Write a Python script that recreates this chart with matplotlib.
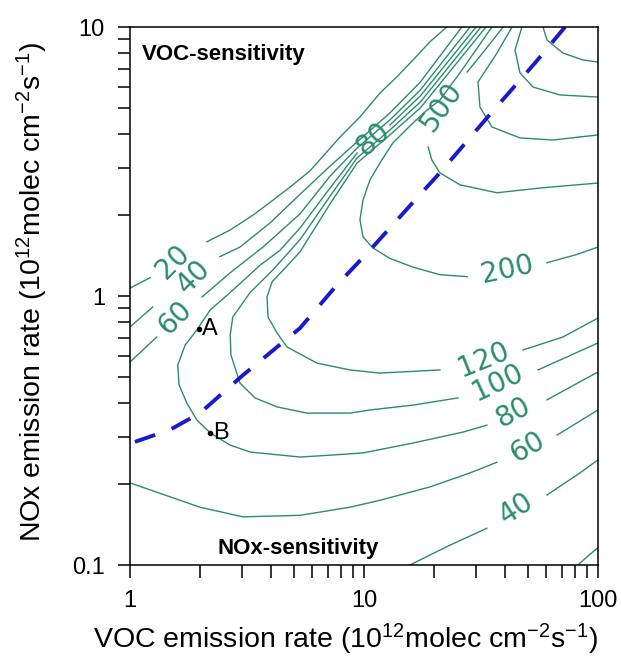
import numpy as np
import matplotlib
matplotlib.use("Agg")
import matplotlib.pyplot as plt

plt.rcParams["font.family"] = ["Liberation Sans", "DejaVu Sans"]
plt.rcParams["mathtext.fontset"] = "custom"
plt.rcParams["mathtext.rm"] = "Liberation Sans"
plt.rcParams["mathtext.default"] = "regular"

nan = np.nan
GREEN = "#2b8c6e"
BLUE = "#1a1acd"

# ozone isopleths (ppb); nan = gap where a label sits
c20_x = [1.00, 1.22, nan, 2.13, 2.68, 3.36, 4.08, 4.83, 5.88, 7.90, 9.61, 11.7, 13.8, 16.2, 19.1, 22.6]
c20_y = [1.07, 1.17, nan, 1.59, 1.76, 2.00, 2.27, 2.54, 2.92, 3.90, 4.63, 5.68, 6.52, 7.54, 8.80, 10.0]
c20b_x = [82.1, 90.6, 100]
c20b_y = [0.100, 0.108, 0.116]

c40_x = [1.00, 1.25, nan, 2.42, 2.95, 3.97, 5.17, 7.16, 9.34, 12.9, 17.4, 26.2]
c40_y = [0.767, 0.910, nan, 1.40, 1.52, 1.87, 2.33, 3.04, 3.74, 4.79, 6.24, 10.0]
c40b_x = [15.7, 22.6, 33.5, nan, 60.5, 83.8, 100]
c40b_y = [0.100, 0.117, 0.137, nan, 0.182, 0.220, 0.246]

c60_x = [1.00, 1.30, nan, 2.03, 2.68, 3.70, 5.33, 7.16, 9.34, 12.9, 17.4, 28.4]
c60_y = [0.568, 0.704, nan, 0.991, 1.22, 1.52, 2.02, 2.79, 3.55, 4.51, 5.83, 10.0]
c60b_x = [1.00, 1.41, 1.99, 3.04, 5.33, 8.71, 11.7, 19.1, 28.4, 37.0, nan, 66.8, 100]
c60b_y = [0.202, 0.182, 0.164, 0.151, 0.153, 0.164, 0.174, 0.195, 0.220, 0.241, nan, 0.304, 0.377]

c80_x = [30.1, 17.4, 12.9, nan, 9.34, 7.16, 5.33, 4.38, 3.59, 2.68, 2.20, 1.93, 1.72, 1.60, 1.62,
         1.75, 1.93, 2.20, 2.68, 3.26, 5.33, 7.16, 9.90, 16.2, 26.5, 33.5, nan, 60.5, 100]
c80_y = [10.0, 5.54, 4.32, nan, 3.40, 2.52, 1.79, 1.48, 1.30, 1.03, 0.887, 0.747, 0.657, 0.554, 0.467,
         0.400, 0.346, 0.310, 0.279, 0.263, 0.252, 0.256, 0.261, 0.284, 0.312, 0.331, nan, 0.411, 0.522]

c100_x = [31.6, 17.4, 12.9, 9.34, 7.16, 5.33, 4.08, 3.26, 2.75, 2.68, 2.70, 2.95, 3.42, 4.25, 5.71,
          8.71, 10.6, 16.2, 25.2, nan, 55.4, 100]
c100_y = [10.0, 5.26, 4.14, 3.26, 2.35, 1.62, 1.25, 1.03, 0.835, 0.716, 0.604, 0.475, 0.418, 0.387, 0.367,
          0.367, 0.377, 0.393, 0.418, nan, 0.531, 0.669]

c120_x = [33.2, 17.4, 12.9, 9.34, 7.16, 5.33, 4.60, 4.05, 3.85, 3.89, 4.25, 4.69, 6.30, 8.71, 11.7,
          21.1, nan, 47.8, 70.8, 100]
c120_y = [10.0, 5.00, 3.97, 3.12, 2.20, 1.46, 1.27, 1.13, 0.991, 0.835, 0.729, 0.646, 0.563, 0.531, 0.517,
          0.531, nan, 0.630, 0.704, 0.828]

c200_x = [35.2, 25.7, 21.1, 18.6, 16.2, 13.3, 11.9, 10.6, 9.90, 9.61, 9.90, 10.9, 12.9, 16.2, 21.1,
          27.6, nan, 60.5, 79.7, 100]
c200_y = [10.0, 6.75, 5.35, 4.91, 4.40, 3.71, 3.20, 2.70, 2.27, 1.92, 1.66, 1.51, 1.38, 1.28, 1.20,
          1.18, nan, 1.33, 1.42, 1.52]

c500_x = [39.3, 32.9, 27.6, nan, 18.8, 19.5, 21.1, 25.7, 37.0, 56.5, 100]
c500_y = [10.0, 8.21, 6.80, nan, 3.58, 3.20, 2.87, 2.59, 2.42, 2.52, 2.63]

c3_x = [42.9, 37.0, 30.7, 31.3, 35.2, 46.4, 64.2, 100]
c3_y = [10.0, 8.00, 6.24, 5.04, 4.25, 3.87, 3.80, 3.97]
c4_x = [47.3, 44.2, 46.4, 52.8, 68.8, 100]
c4_y = [10.0, 8.21, 6.75, 5.98, 5.59, 5.49]
c5_x = [58.2, 60.5, 70.8, 86.3, 100]
c5_y = [10.0, 8.95, 8.00, 7.54, 7.41]

# ridge line separating the two regimes
ridge_x = [1.05, 1.48, 1.99, 3.04, 5.33, 7.67, 10.6, 16.5, 21.1, 33.5, 53.8, 72.3]
ridge_y = [0.287, 0.318, 0.367, 0.508, 0.760, 1.10, 1.48, 2.27, 2.87, 4.59, 7.35, 10.0]

# contour labels: text, x, y, rotation
labels = [("20", 1.53, 1.34, 45), ("40", 1.86, 1.18, 45), ("60", 1.56, 0.828, 45),
          ("80", 10.9, 3.83, 42), ("500", 21.5, 5.04, 55), ("200", 40.8, 1.25, 12),
          ("120", 32.3, 0.578, 22), ("100", 37.4, 0.475, 25), ("80", 43.4, 0.370, 28),
          ("60", 49.7, 0.275, 30), ("40", 44.6, 0.162, 33)]

pt_A = (1.97, 0.754)
pt_B = (2.20, 0.310)

fig = plt.figure(figsize=(6.21, 6.69), dpi=100)
ax = fig.add_axes([130 / 621, 104 / 669, 468 / 621, 538 / 669])
ax.set_xscale("log")
ax.set_yscale("log")

lines = [(c20_x, c20_y), (c20b_x, c20b_y), (c40_x, c40_y), (c40b_x, c40b_y),
         (c60_x, c60_y), (c60b_x, c60b_y), (c80_x, c80_y), (c100_x, c100_y),
         (c120_x, c120_y), (c200_x, c200_y), (c500_x, c500_y),
         (c3_x, c3_y), (c4_x, c4_y), (c5_x, c5_y)]
for xs, ys in lines:
    ax.plot(xs, ys, color=GREEN, lw=1.0)

for txt, x, y, rot in labels:
    ax.text(x, y, txt, color=GREEN, fontsize=20, family="DejaVu Sans",
            rotation=rot, rotation_mode="anchor", ha="center", va="center")

ax.plot(ridge_x, ridge_y, color=BLUE, lw=2.8, ls=(0, (5.5, 4.5)))

for (px, py), name in ((pt_A, "A"), (pt_B, "B")):
    ax.plot(px, py, "o", color="black", ms=3)
    ax.annotate(name, (px, py), xytext=(2, 0), textcoords="offset points",
                fontsize=17, va="center", ha="left")

ax.text(0.026, 0.948, "VOC-sensitivity", transform=ax.transAxes, fontsize=16,
        fontweight="bold", va="center", ha="left")
ax.text(0.188, 0.030, "NOx-sensitivity", transform=ax.transAxes, fontsize=16,
        fontweight="bold", va="center", ha="left")

ax.set_xlim(1, 100)
ax.set_ylim(0.1, 10)
ax.set_xticks([1, 10, 100])
ax.set_xticklabels(["1", "10", "100"])
ax.set_yticks([0.1, 1, 10])
ax.set_yticklabels(["0.1", "1", "10"])
ax.tick_params(which="both", direction="out", length=9, width=1.1, labelsize=17)
ax.tick_params(axis="x", pad=9)
ax.tick_params(axis="y", pad=9)
for s in ax.spines.values():
    s.set_linewidth(1.1)

ax.set_xlabel(r"VOC emission rate (10$^{12}$molec cm$^{-2}$s$^{-1}$)", fontsize=20.5)
ax.set_ylabel(r"NOx emission rate (10$^{12}$molec cm$^{-2}$s$^{-1}$)", fontsize=20.5)
ax.xaxis.set_label_coords(0.46, -0.105)
ax.yaxis.set_label_coords(-0.17, 0.507)

fig.savefig("out.png", dpi=100)
